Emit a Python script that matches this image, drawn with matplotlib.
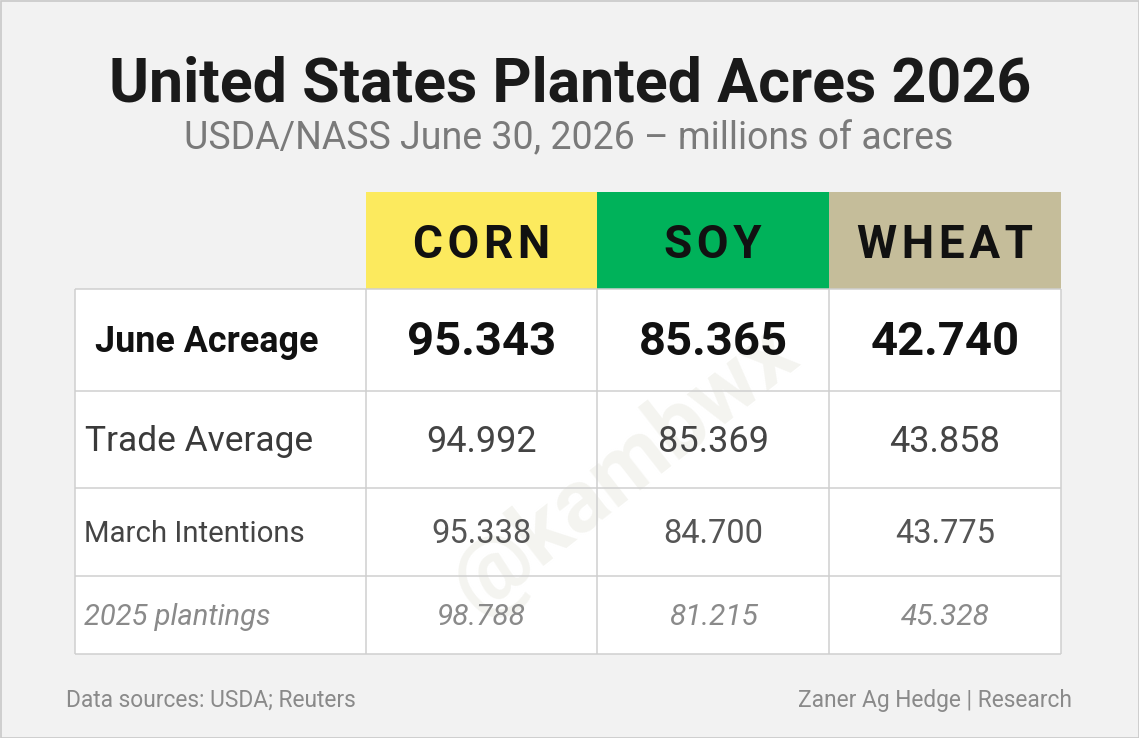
import matplotlib
matplotlib.use("Agg")
import matplotlib.pyplot as plt
from matplotlib.patches import Rectangle

# ---- data ----
crops = ["CORN", "SOY", "WHEAT"]
crop_colors = ["#fcea5e", "#00b25a", "#c5bd9a"]
row_labels = ["June Acreage", "Trade Average", "March Intentions", "2025 plantings"]
june_acreage = ["95.343", "85.365", "42.740"]
trade_average = ["94.992", "85.369", "43.858"]
march_intentions = ["95.338", "84.700", "43.775"]
plantings_2025 = ["98.788", "81.215", "45.328"]
rows_values = [june_acreage, trade_average, march_intentions, plantings_2025]

title = "United States Planted Acres 2026"
subtitle = "USDA/NASS June 30, 2026 \u2013 millions of acres"
source_left = "Data sources: USDA; Reuters"
source_right = "Zaner Ag Hedge | Research"
watermark = "@kambwx"

# ---- layout (pixel coordinates) ----
W, H = 1139, 738
FONT = ["Roboto", "DejaVu Sans"]
fig = plt.figure(figsize=(W / 100, H / 100), dpi=100)
fig.patch.set_facecolor("#f2f2f2")
ax = fig.add_axes([0, 0, 1, 1])
ax.set_xlim(0, W)
ax.set_ylim(H, 0)
ax.axis("off")

# outer border
ax.add_patch(Rectangle((0.5, 0.5), W - 1, H - 1, fill=False, ec="#c9c9c9", lw=1.2))

ax.text(570, 84, title, ha="center", va="center", fontsize=43.8, fontweight="bold",
        color="#1a1a1a", family=FONT)
ax.text(569, 139, subtitle, ha="center", va="center", fontsize=27, color="#7a7a7a",
        family=FONT)

col_x = [75, 366, 597, 829, 1061]
row_y = [289, 391, 488, 576, 654]
head_top = 192

# header cells
for i, (c, col) in enumerate(zip(crops, crop_colors)):
    x0, x1 = col_x[i + 1], col_x[i + 2]
    ax.add_patch(Rectangle((x0, head_top), x1 - x0, row_y[0] - head_top, fc=col, ec="none"))
    ax.text((x0 + x1) / 2, (head_top + row_y[0]) / 2 + 4, "\u200a".join(c), ha="center",
            va="center", fontsize=33, fontweight="bold", color="#111111", family=FONT)

# body background
ax.add_patch(Rectangle((col_x[0], row_y[0]), col_x[-1] - col_x[0], row_y[-1] - row_y[0],
                       fc="white", ec="none"))

# grid lines
gc = "#cfcfcf"
for y in row_y:
    ax.plot([col_x[0], col_x[-1]], [y, y], color=gc, lw=1.1, solid_capstyle="butt")
for i, x in enumerate(col_x):
    ax.plot([x, x], [row_y[0], row_y[-1]], color=gc, lw=1.1, solid_capstyle="butt")

# watermark
ax.text(625, 470, watermark, ha="center", va="center", fontsize=64, fontweight="bold",
        color="#f4f4f0", rotation=38, family=FONT, zorder=1)

label_styles = [
    dict(fontsize=25.8, fontweight="bold", color="#111111", style="normal", x=95),
    dict(fontsize=25.5, fontweight="normal", color="#3a3a3a", style="normal", x=85),
    dict(fontsize=21.2, fontweight="normal", color="#444444", style="normal", x=84),
    dict(fontsize=21, fontweight="normal", color="#8a8a8a", style="italic", x=84),
]
value_styles = [
    dict(fontsize=34, fontweight="bold", color="#111111", style="normal"),
    dict(fontsize=26, fontweight="normal", color="#444444", style="normal"),
    dict(fontsize=23.5, fontweight="normal", color="#555555", style="normal"),
    dict(fontsize=21.5, fontweight="normal", color="#8a8a8a", style="italic"),
]

for r, (lab, vals) in enumerate(zip(row_labels, rows_values)):
    yc = (row_y[r] + row_y[r + 1]) / 2 + 2
    ls = label_styles[r]
    ax.text(ls["x"], yc, lab, ha="left", va="center", fontsize=ls["fontsize"],
            fontweight=ls["fontweight"], color=ls["color"], style=ls["style"], family=FONT,
            zorder=3)
    vs = value_styles[r]
    for i, v in enumerate(vals):
        xc = (col_x[i + 1] + col_x[i + 2]) / 2
        ax.text(xc, yc, v, ha="center", va="center", fontsize=vs["fontsize"],
                fontweight=vs["fontweight"], color=vs["color"], style=vs["style"],
                family=FONT, zorder=3)

ax.text(66, 700, source_left, ha="left", va="center", fontsize=16.4, color="#8a8a8a",
        family=FONT)
ax.text(1072, 700, source_right, ha="right", va="center", fontsize=16.4, color="#8a8a8a",
        family=FONT)

fig.savefig("out.png", dpi=100, facecolor=fig.get_facecolor())
